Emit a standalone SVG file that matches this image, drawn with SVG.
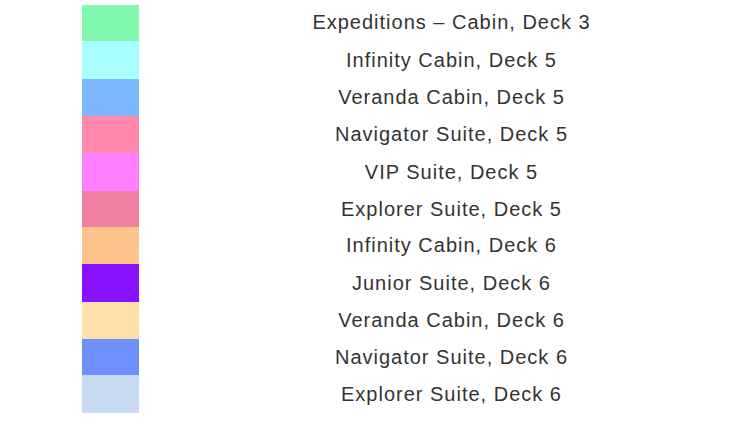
<svg xmlns="http://www.w3.org/2000/svg" width="750" height="428" viewBox="0 0 750 428">
<style>
text{font-family:"Liberation Sans",Arial,sans-serif;font-size:20px;letter-spacing:1px;fill:#333;text-anchor:middle;dominant-baseline:central}
</style>
<rect width="750" height="428" fill="#fff"/>
<g id="n1"><rect x="82" y="5" width="57" height="37" fill="#80F8AE"/><text x="451.5" y="22">Expeditions – Cabin, Deck 3</text></g>
<g id="n2"><rect x="82" y="41" width="57" height="38" fill="#A8FFFF"/><text x="451.5" y="59.5">Infinity Cabin, Deck 5</text></g>
<g id="n3"><rect x="82" y="79" width="57" height="37" fill="#7DB8FF"/><text x="451.5" y="97">Veranda Cabin, Deck 5</text></g>
<g id="n4"><rect x="82" y="116" width="57" height="37" fill="#FF88AC"/><text x="451.5" y="134">Navigator Suite, Deck 5</text></g>
<g id="n5"><rect x="82" y="153" width="57" height="38" fill="#FF80FF"/><text x="451.5" y="171.5">VIP Suite, Deck 5</text></g>
<g id="n6"><rect x="82" y="191" width="57" height="36" fill="#F080A0"/><text x="451.5" y="209">Explorer Suite, Deck 5</text></g>
<g id="n7"><rect x="82" y="227" width="57" height="37" fill="#FFC48C"/><text x="451.5" y="245">Infinity Cabin, Deck 6</text></g>
<g id="n8"><rect x="82" y="264" width="57" height="38" fill="#8811FF"/><text x="451.5" y="282.5">Junior Suite, Deck 6</text></g>
<g id="n9"><rect x="82" y="302" width="57" height="37" fill="#FFE0AA"/><text x="451.5" y="320">Veranda Cabin, Deck 6</text></g>
<g id="n10"><rect x="82" y="339" width="57" height="36" fill="#6E90FF"/><text x="451.5" y="356.5">Navigator Suite, Deck 6</text></g>
<g id="n11"><rect x="82" y="375" width="57" height="38" fill="#C8DAF2"/><text x="451.5" y="394">Explorer Suite, Deck 6</text></g>
<g id="connectors"/>
</svg>
